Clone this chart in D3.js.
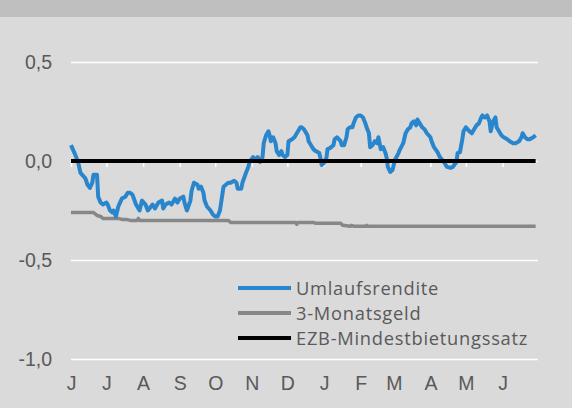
<!DOCTYPE html>
<html lang="de">
<head>
<meta charset="UTF-8"/>
<title>Umlaufsrendite, 3-Monatsgeld, EZB-Mindestbietungssatz</title>
<script src="https://d3js.org/d3.v7.min.js"></script>
<style>
html, body {
  margin: 0;
  padding: 0;
  background: #dadada;
  overflow: hidden;
}
svg {
  display: block;
  font-family: "Open Sans", sans-serif;
}
text {
  fill: #595959;
}
.grid line {
  stroke: #fff;
  stroke-width: 1.5;
}
.grid path {
  stroke-width: 0;
}
.months .tick line {
  stroke: #fff;
  stroke-width: 1.5;
}
.months path {
  stroke-width: 0;
}
.legend text {
  font-size: 18.3px;
  letter-spacing: 0.75px;
}
</style>
</head>
<body>
<svg width="572" height="408"></svg>
<script>
// x-axis: one letter per month, Juni 2016 bis Juni 2017
const monthLabels = ['J', 'J', 'A', 'S', 'O', 'N', 'D', 'J', 'F', 'M', 'A', 'M', 'J'];
const yTicks = [0.5, 0, -0.5, -1];

// Umlaufsrendite (%)
const umlaufDates = [
  '2016-06-01','2016-06-04','2016-06-07','2016-06-09','2016-06-13','2016-06-15','2016-06-17','2016-06-19',
  '2016-06-20','2016-06-23','2016-06-24','2016-06-26','2016-06-28','2016-07-01','2016-07-02','2016-07-04',
  '2016-07-06','2016-07-07','2016-07-09','2016-07-11','2016-07-14','2016-07-17','2016-07-19','2016-07-21',
  '2016-07-23','2016-07-26','2016-07-29','2016-07-31','2016-08-03','2016-08-05','2016-08-09','2016-08-11',
  '2016-08-14','2016-08-17','2016-08-18','2016-08-20','2016-08-23','2016-08-25','2016-08-28','2016-08-30',
  '2016-09-01','2016-09-04','2016-09-05','2016-09-07','2016-09-10','2016-09-11','2016-09-13','2016-09-16',
  '2016-09-17','2016-09-19','2016-09-21','2016-09-22','2016-09-24','2016-09-27','2016-09-29','2016-10-01',
  '2016-10-03','2016-10-05','2016-10-07','2016-10-08','2016-10-12','2016-10-14','2016-10-17','2016-10-19',
  '2016-10-20','2016-10-23','2016-10-24','2016-10-27','2016-10-29','2016-10-30','2016-11-02','2016-11-04',
  '2016-11-06','2016-11-08','2016-11-10','2016-11-11','2016-11-13','2016-11-15','2016-11-16','2016-11-17',
  '2016-11-19','2016-11-21','2016-11-22','2016-11-24','2016-11-26','2016-11-27','2016-11-29','2016-12-01',
  '2016-12-02','2016-12-05','2016-12-07','2016-12-09','2016-12-12','2016-12-13','2016-12-15','2016-12-18',
  '2016-12-19','2016-12-21','2016-12-23','2016-12-25','2016-12-28','2016-12-29','2016-12-30','2017-01-01',
  '2017-01-03','2017-01-04','2017-01-06','2017-01-09','2017-01-10','2017-01-12','2017-01-15','2017-01-16',
  '2017-01-18','2017-01-20','2017-01-21','2017-01-23','2017-01-25','2017-01-26','2017-01-28','2017-01-30',
  '2017-02-01','2017-02-03','2017-02-05','2017-02-06','2017-02-08','2017-02-09','2017-02-11','2017-02-13',
  '2017-02-15','2017-02-16','2017-02-18','2017-02-20','2017-02-22','2017-02-23','2017-02-24','2017-02-26',
  '2017-02-28','2017-03-02','2017-03-05','2017-03-06','2017-03-09','2017-03-11','2017-03-13','2017-03-15',
  '2017-03-16','2017-03-18','2017-03-20','2017-03-21','2017-03-23','2017-03-25','2017-03-27','2017-03-29',
  '2017-04-01','2017-04-02','2017-04-04','2017-04-07','2017-04-09','2017-04-11','2017-04-13','2017-04-15',
  '2017-04-18','2017-04-20','2017-04-23','2017-04-24','2017-04-26','2017-04-28','2017-04-29','2017-05-01',
  '2017-05-04','2017-05-06','2017-05-08','2017-05-10','2017-05-12','2017-05-14','2017-05-15','2017-05-17',
  '2017-05-19','2017-05-21','2017-05-22','2017-05-24','2017-05-26','2017-05-27','2017-05-29','2017-05-31',
  '2017-06-02','2017-06-05','2017-06-07','2017-06-10','2017-06-12','2017-06-15','2017-06-17','2017-06-18',
  '2017-06-20','2017-06-22','2017-06-24','2017-06-27','2017-06-29'
];
const umlaufValues = [
  0.08, 0.04, -0.005, -0.06, -0.086, -0.12, -0.136, -0.11,
  -0.07, -0.07, -0.18, -0.21, -0.22, -0.21, -0.22, -0.25,
  -0.26, -0.25, -0.28, -0.23, -0.19, -0.18, -0.16, -0.16,
  -0.17, -0.22, -0.25, -0.20, -0.22, -0.25, -0.22, -0.24,
  -0.21, -0.20, -0.24, -0.22, -0.21, -0.22, -0.19, -0.21,
  -0.19, -0.18, -0.21, -0.25, -0.20, -0.15, -0.11, -0.12,
  -0.14, -0.13, -0.16, -0.20, -0.23, -0.25, -0.27, -0.28,
  -0.28, -0.25, -0.17, -0.13, -0.11, -0.11, -0.10, -0.11,
  -0.14, -0.14, -0.11, -0.06, -0.03, -0.005, 0.02, 0.005,
  0.02, -0.005, 0.02, 0.09, 0.13, 0.15, 0.13, 0.10,
  0.12, 0.09, 0.05, 0.03, 0.05, 0.03, 0.02, 0.03,
  0.10, 0.11, 0.12, 0.14, 0.17, 0.17, 0.16, 0.13,
  0.10, 0.08, 0.06, 0.05, 0.04, 0.015, -0.02, -0.01,
  0.015, 0.06, 0.065, 0.08, 0.11, 0.12, 0.10, 0.08,
  0.08, 0.12, 0.16, 0.17, 0.17, 0.19, 0.22, 0.23,
  0.23, 0.22, 0.19, 0.17, 0.14, 0.07, 0.08, 0.10,
  0.09, 0.12, 0.06, 0.07, 0.04, 0.015, -0.03, -0.055,
  -0.045, 0.005, 0.04, 0.055, 0.09, 0.14, 0.16, 0.17,
  0.19, 0.20, 0.18, 0.21, 0.19, 0.17, 0.16, 0.14,
  0.12, 0.10, 0.07, 0.045, 0.02, 0.005, -0.01, -0.03,
  -0.035, -0.03, -0.005, 0.04, 0.045, 0.11, 0.15, 0.17,
  0.15, 0.14, 0.16, 0.18, 0.19, 0.22, 0.23, 0.22,
  0.23, 0.20, 0.15, 0.20, 0.22, 0.17, 0.15, 0.13,
  0.12, 0.11, 0.10, 0.09, 0.09, 0.10, 0.12, 0.14,
  0.12, 0.11, 0.11, 0.12, 0.13
];

// 3-Monatsgeld (%)
const geldDates = [
  '2016-06-01','2016-06-20','2016-06-23','2016-06-26','2016-06-28','2016-07-11','2016-07-14','2016-07-18',
  '2016-07-21','2016-07-27','2016-07-28','2016-07-29','2016-10-12','2016-10-14','2016-12-08','2016-12-09',
  '2016-12-10','2016-12-23','2016-12-25','2017-01-15','2017-01-17','2017-01-23','2017-01-24','2017-01-27',
  '2017-02-05','2017-02-06','2017-02-07','2017-06-29'
];
const geldValues = [
  -0.26, -0.26, -0.275, -0.28, -0.29, -0.29, -0.295, -0.295,
  -0.30, -0.30, -0.29, -0.30, -0.30, -0.31, -0.31, -0.32,
  -0.31, -0.31, -0.315, -0.315, -0.325, -0.33, -0.325, -0.33,
  -0.33, -0.325, -0.33, -0.33
];

// EZB-Mindestbietungssatz (%)
const ezbDates = ['2016-06-01', '2017-06-29'];
const ezbValues = [0, 0];

const series = [
  { name: 'Umlaufsrendite', dates: umlaufDates, values: umlaufValues, color: '#2a86cc', width: 4 },
  { name: '3-Monatsgeld', dates: geldDates, values: geldValues, color: '#878787', width: 3.5 },
  { name: 'EZB-Mindestbietungssatz', dates: ezbDates, values: ezbValues, color: '#000000', width: 4 }
];

const parse = d3.timeParse('%Y-%m-%d');
const svg = d3.select('svg');

// header band
svg.append('rect')
  .attr('x', 0).attr('y', 0)
  .attr('width', 572).attr('height', 17)
  .attr('fill', '#bfbfbf');

const plotLeft = 71, plotRight = 538, plotTop = 62, plotBottom = 359;

const xScale = d3.scaleTime()
  .domain([parse('2016-06-01'), parse('2017-07-01')])
  .range([plotLeft, plotRight]);

const yScale = d3.scaleLinear()
  .domain([-1, 0.5])
  .range([plotBottom, plotTop]);

const de = d3.formatLocale({ decimal: ',', thousands: '.', grouping: [3], currency: ['', ' €'], minus: '-' });
const fmt = de.format('.1f');

// horizontal grid + y labels
const yAxis = svg.append('g')
  .attr('class', 'grid')
  .attr('transform', `translate(${plotLeft},0)`)
  .call(d3.axisLeft(yScale)
    .tickValues(yTicks)
    .tickSize(-(plotRight - plotLeft))
    .tickPadding(19)
    .tickFormat(fmt));
yAxis.selectAll('text')
  .style('font-size', '19.5px')
  .attr('dy', '0.35em');

// month ticks on the zero line
const monthStarts = d3.timeMonth.range(parse('2016-06-01'), parse('2017-07-01'));
svg.append('g')
  .attr('class', 'months')
  .attr('transform', `translate(0,${yScale(0)})`)
  .call(d3.axisBottom(xScale)
    .tickValues(monthStarts)
    .tickSize(6)
    .tickFormat(''));

// month letters below the plot
const monthAxis = svg.append('g')
  .attr('class', 'months')
  .attr('transform', `translate(0,${plotBottom})`)
  .call(d3.axisBottom(xScale)
    .tickValues(monthStarts)
    .tickSize(0)
    .tickPadding(17)
    .tickFormat((d, i) => monthLabels[i]));
monthAxis.selectAll('text').style('font-size', '19.5px');

// lines
const line = d3.line()
  .x((d) => xScale(d.date))
  .y((d) => yScale(d.value));

// draw gray first, then blue, black on top
[series[1], series[0], series[2]].forEach((s) => {
  const pts = s.dates.map((d, i) => ({ date: parse(d), value: s.values[i] }));
  svg.append('path')
    .datum(pts)
    .attr('fill', 'none')
    .attr('stroke', s.color)
    .attr('stroke-width', s.width)
    .attr('stroke-linejoin', 'round')
    .attr('d', line);
});

// legend
const legend = svg.append('g')
  .attr('class', 'legend')
  .attr('transform', 'translate(238,288)');
const legendRows = [0, 25, 50];
series.forEach((s, i) => {
  const g = legend.append('g').attr('transform', `translate(0,${legendRows[i]})`);
  g.append('line')
    .attr('x1', 0).attr('x2', 53)
    .attr('y1', 0).attr('y2', 0)
    .attr('stroke', s.color)
    .attr('stroke-width', 4);
  g.append('text')
    .attr('x', 58)
    .attr('y', 0)
    .attr('dy', '0.36em')
    .text(s.name);
});
</script>
</body>
</html>
